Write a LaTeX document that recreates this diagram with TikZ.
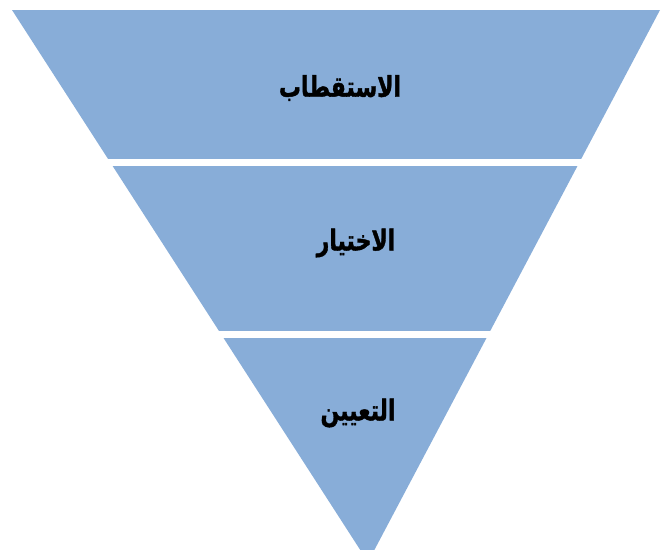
\documentclass[tikz,border=0pt]{standalone}
\usepackage{fontspec}
\newfontfamily\arabicfont[Script=Arabic,FakeBold=1.5]{DejaVu Sans}
\TeXXeTstate=1
\definecolor{bandblue}{RGB}{136,173,216}
\tikzset{
  band/.style={fill=bandblue, draw=none},
  label/.style={font=\arabicfont\bfseries\fontsize{22}{28}\selectfont, text=black, inner sep=0pt, yscale=1.3}
}
\begin{document}
\begin{tikzpicture}[x=1pt,y=-1pt]
\useasboundingbox (0,0) rectangle (663,549);
\begin{scope}
  \clip (0,0) rectangle (663,549);
  \clip (12,10) -- (660,10) -- (368,562) -- cycle;
  \fill[band] (0,10) rectangle (663,159);
  \fill[band] (0,166) rectangle (663,331);
  \fill[band] (0,338) rectangle (663,560);
\end{scope}
\node[label] (t1) at (340,88) {\beginR الاستقطاب\endR};
\node[label] (t2) at (356,243) {\beginR الاختيار\endR};
\node[label] (t3) at (358,413) {\beginR التعيين\endR};
\end{tikzpicture}
\end{document}
